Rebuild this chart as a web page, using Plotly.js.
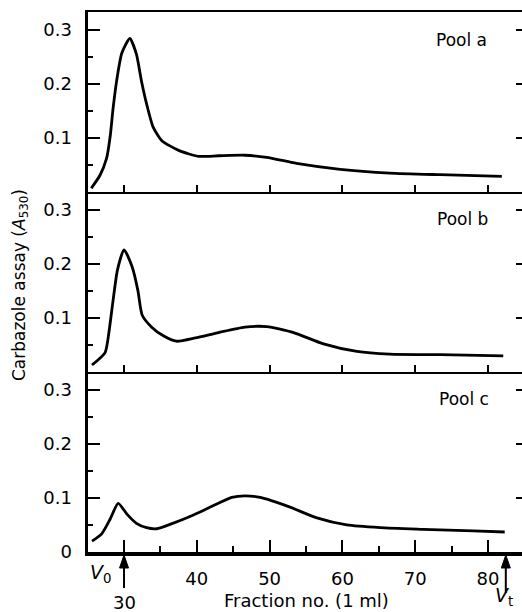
<!DOCTYPE html>
<html>
<head>
<meta charset="utf-8">
<script src="https://cdn.plot.ly/plotly-3.0.1.min.js"></script>
<style>
html,body{margin:0;padding:0;background:#fff;overflow:hidden;width:522px;height:612px;}
#chart{width:530px;height:612px;}
</style>
</head>
<body>
<div id="chart"></div>
<script>
// Fraction numbers and carbazole absorbance (A530)
const fracA = [25.5, 26.7, 27.6, 28.1, 28.5, 29.0, 29.7, 30.8, 31.7, 32.4, 33.1, 34.0, 35.2, 37.5, 40.2, 43.0, 46.6, 49.6, 53.7, 59.7, 66.5, 73.4, 81.9];
const poolA = [0.007, 0.031, 0.062, 0.103, 0.155, 0.207, 0.257, 0.284, 0.255, 0.205, 0.163, 0.120, 0.095, 0.077, 0.066, 0.067, 0.068, 0.064, 0.053, 0.042, 0.035, 0.032, 0.029];

const fracB = [25.6, 27.4, 27.9, 28.5, 29.1, 30.0, 31.1, 31.9, 32.5, 33.8, 35.4, 37.2, 39.8, 43.0, 46.6, 49.6, 53.3, 57.4, 62.0, 66.5, 73.4, 82.1];
const poolB = [0.013, 0.036, 0.071, 0.133, 0.189, 0.226, 0.195, 0.151, 0.105, 0.083, 0.067, 0.057, 0.063, 0.073, 0.083, 0.084, 0.073, 0.052, 0.038, 0.033, 0.032, 0.030];

const fracC = [25.6, 26.9, 28.1, 29.2, 30.4, 31.7, 33.1, 34.5, 36.5, 39.3, 42.0, 44.8, 46.6, 48.7, 52.8, 56.5, 60.6, 65.2, 71.1, 78.0, 82.3];
const poolC = [0.020, 0.033, 0.061, 0.090, 0.070, 0.053, 0.045, 0.043, 0.052, 0.067, 0.084, 0.101, 0.104, 0.101, 0.083, 0.063, 0.050, 0.045, 0.042, 0.039, 0.037];

const poolNames = ["Pool a", "Pool b", "Pool c"];
const xTickVals = [30, 40, 50, 60, 70, 80];
const xTickText = ["30", "40", "50", "60", "70", "80"];
const xMinorVals = [35, 45, 55, 65, 75];
const yTickVals = [0.1, 0.2, 0.3];
const yTickValsC = [0, 0.1, 0.2, 0.3];
const yTickTextC = ["0", "0.1", "0.2", "0.3"];
const markV0 = 25.05;   // V0 label position (left edge)
const markVt = 82.45;   // Vt arrow position

const FONT = "DejaVu Sans, Arial, sans-serif";
const lineStyle = {color: "#000", width: 2.8, shape: "spline", smoothing: 0.6};

const traces = [
  {x: fracA, y: poolA, xaxis: "x", yaxis: "y", mode: "lines", line: lineStyle, hoverinfo: "skip"},
  {x: fracB, y: poolB, xaxis: "x2", yaxis: "y2", mode: "lines", line: lineStyle, hoverinfo: "skip"},
  {x: fracC, y: poolC, xaxis: "x3", yaxis: "y3", mode: "lines", line: lineStyle, hoverinfo: "skip"}
];

const xRange = [25.05, 85.5];
const yRange = [0, 0.333];

function xAx(anchor, extra) {
  return Object.assign({
    anchor: anchor, range: xRange, showgrid: false, zeroline: false,
    showline: true, linecolor: "#000", linewidth: 2,
    ticks: "inside", ticklen: 7, tickwidth: 2, tickcolor: "#000",
    tickmode: "array", tickvals: xTickVals, showticklabels: false
  }, extra || {});
}
function yAx(anchor, domain, extra) {
  return Object.assign({
    anchor: anchor, domain: domain, range: yRange, showgrid: false, zeroline: false,
    showline: true, linecolor: "#000", linewidth: 3.5, mirror: "ticks",
    ticks: "inside", ticklen: 12, tickwidth: 2, tickcolor: "#000",
    tickmode: "array", tickvals: yTickVals,
    ticklabelstandoff: 9,
    tickfont: {family: FONT, size: 18, color: "#000"},
    minor: {ticks: "inside", ticklen: 5, tickwidth: 2, tickcolor: "#000", dtick: 0.05, tick0: 0}
  }, extra || {});
}

// Arrow marks (shaft + head) anchored at data x, drawn in pixel offsets from the bottom axis
function arrowShapes(xv, tailPx) {
  return [
    {type: "line", xref: "x3", yref: "paper", xsizemode: "pixel", ysizemode: "pixel",
     xanchor: xv, yanchor: 0, x0: 0, x1: 0, y0: -tailPx, y1: -12,
     line: {color: "#000", width: 2}},
    {type: "path", xref: "x3", yref: "paper", xsizemode: "pixel", ysizemode: "pixel",
     xanchor: xv, yanchor: 0, path: "M -4.5,-16 L 4.5,-16 L 0,-3 Z",
     fillcolor: "#000", line: {color: "#000", width: 1}}
  ];
}

const layout = {
  width: 530, height: 612,
  margin: {l: 88, r: 2, t: 12, b: 60},
  paper_bgcolor: "#fff", plot_bgcolor: "#fff",
  showlegend: false,
  font: {family: FONT, color: "#000"},
  xaxis: xAx("y", {mirror: true}),
  xaxis2: xAx("y2", {matches: "x"}),
  xaxis3: xAx("y3", {
    matches: "x", linewidth: 3.5, ticklen: 12,
    tickvals: xTickVals.slice(1), ticktext: xTickText.slice(1), showticklabels: true,
    ticklabelstandoff: 8,
    tickfont: {family: FONT, size: 18, color: "#000"},
    minor: {ticks: "inside", ticklen: 6, tickwidth: 2, tickcolor: "#000", tickmode: "array", tickvals: xMinorVals}
  }),
  yaxis: yAx("x", [0.6667, 1]),
  yaxis2: yAx("x2", [0.3333, 0.6667]),
  yaxis3: yAx("x3", [0, 0.3333], {tickvals: yTickValsC, ticktext: yTickTextC}),
  shapes: [].concat(
    arrowShapes(xTickVals[0], 36),
    arrowShapes(markVt, 41),
    [{type: "line", xref: "x3", yref: "paper", xsizemode: "pixel", ysizemode: "pixel",
      xanchor: xTickVals[0], yanchor: 0, x0: 0, x1: 0, y0: 0, y1: 12,
      line: {color: "#000", width: 2}}]
  ),
  annotations: [
    {text: poolNames[0], xref: "paper", yref: "paper", x: 0.911, y: 0.948, xanchor: "right", yanchor: "middle", showarrow: false, font: {family: FONT, size: 17, color: "#000"}},
    {text: poolNames[1], xref: "paper", yref: "paper", x: 0.913, y: 0.617, xanchor: "right", yanchor: "middle", showarrow: false, font: {family: FONT, size: 17, color: "#000"}},
    {text: poolNames[2], xref: "paper", yref: "paper", x: 0.916, y: 0.283, xanchor: "right", yanchor: "middle", showarrow: false, font: {family: FONT, size: 17, color: "#000"}},
    {text: "Carbazole assay (<i>A</i><sub>530</sub>)", xref: "paper", yref: "paper", x: -0.155, y: 0.494, xanchor: "center", yanchor: "middle", textangle: -90, showarrow: false, font: {family: FONT, size: 17, color: "#000"}},
    {text: "Fraction no. (1 ml)", xref: "paper", yref: "paper", x: 0.497, y: -0.089, xanchor: "center", yanchor: "middle", showarrow: false, font: {family: FONT, size: 18, color: "#000"}},
    {text: "<i>V</i><sub>0</sub>", xref: "x3", yref: "paper", x: markV0, y: -0.04, xanchor: "left", yanchor: "middle", showarrow: false, font: {family: FONT, size: 19, color: "#000"}},
    {text: xTickText[0], xref: "x3", yref: "paper", x: xTickVals[0], y: -0.094, xanchor: "center", yanchor: "middle", showarrow: false, font: {family: FONT, size: 18, color: "#000"}},
    {text: "<i>V</i><sub>t</sub>", xref: "x3", yref: "paper", x: markVt - 0.3, y: -0.083, xanchor: "center", yanchor: "middle", showarrow: false, font: {family: FONT, size: 19, color: "#000"}}
  ]
};

Plotly.newPlot("chart", traces, layout, {staticPlot: true, displayModeBar: false});
</script>
</body>
</html>
